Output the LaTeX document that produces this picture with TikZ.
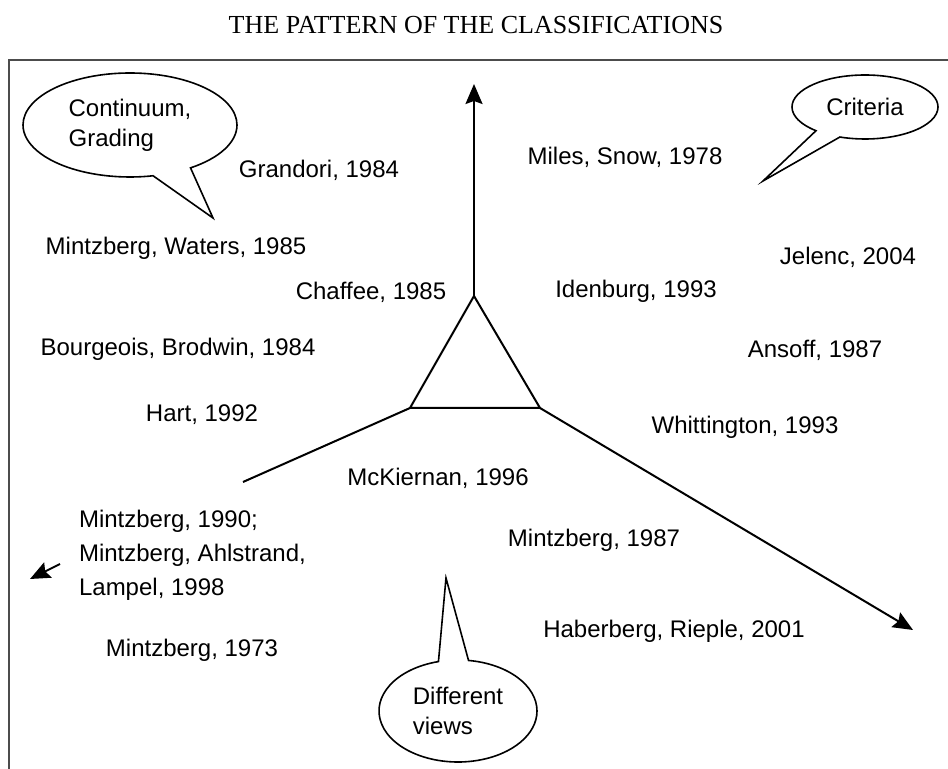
\documentclass[tikz,border=0pt]{standalone}
\usepackage{fontspec}
\setmainfont{Liberation Sans}
\newfontfamily\titlefont{Liberation Serif}
\usetikzlibrary{arrows.meta}
\usetikzlibrary{shapes.callouts}

\begin{document}
\begin{tikzpicture}[x=0.5pt,y=-0.5pt,
    lbl/.style={font=\fontsize{12}{17}\selectfont},
    bubble/.style={ellipse callout,draw,line width=0.8pt,fill=white,inner sep=0pt,
        callout pointer arc=22,font=\fontsize{12}{15}\selectfont,align=left},
    axis/.style={line width=1pt,-{Stealth[length=10pt,width=8.5pt,inset=1.5pt]}}]
    \useasboundingbox (0,0) rectangle (948,769);

    % frame and title
    \draw[black!70,line width=0.9pt] (9,769) -- (9,60) -- (948,60);
    \node[font=\titlefont\fontsize{13}{15}\selectfont] (title) at (476,25) {THE PATTERN OF THE CLASSIFICATIONS};

    % triangle and the three arms
    \coordinate (top) at (474,296);
    \coordinate (left) at (410,408);
    \coordinate (right) at (540,408);
    \coordinate (upEnd) at (474,84);
    \coordinate (rightEnd) at (913,630);
    \coordinate (leftEnd) at (243,482);
    \coordinate (tailStart) at (60,564);
    \coordinate (tailEnd) at (30,579);
    \draw[line width=1pt] (top) -- (left) -- (right) -- cycle;
    \draw[axis] (top) -- (upEnd);
    \draw[axis] (right) -- (rightEnd);
    \draw[line width=1pt] (left) -- (leftEnd);
    \draw[axis] (tailStart) -- (tailEnd);

    % callouts
    \coordinate (tipContin) at (213,218);
    \coordinate (tipCrit) at (763,181);
    \coordinate (tipViews) at (446,578);
    \node[bubble,minimum width=107pt,minimum height=52pt,callout absolute pointer={(tipContin)}] (contin) at (130,125) {Continuum,\\Grading};
    \node[bubble,minimum width=73pt,minimum height=32pt,callout absolute pointer={(tipCrit)}] (crit) at (865,107) {Criteria};
    \node[bubble,minimum width=79pt,minimum height=51pt,callout absolute pointer={(tipViews)}] (views) at (458,711) {Different\\views};

    % authors
    \node[lbl] (grandori) at (319,170) {Grandori, 1984};
    \node[lbl] (miles) at (625,157) {Miles, Snow, 1978};
    \node[lbl] (waters) at (176,248) {Mintzberg, Waters, 1985};
    \node[lbl] (jelenc) at (848,257) {Jelenc, 2004};
    \node[lbl] (chaffee) at (371,292) {Chaffee, 1985};
    \node[lbl] (idenburg) at (636,291) {Idenburg, 1993};
    \node[lbl] (bourgeois) at (178,349) {Bourgeois, Brodwin, 1984};
    \node[lbl] (ansoff) at (815,350) {Ansoff, 1987};
    \node[lbl] (hart) at (202,415) {Hart, 1992};
    \node[lbl] (whitt) at (745,427) {Whittington, 1993};
    \node[lbl] (mckiernan) at (438,478) {McKiernan, 1996};
    \node[lbl,anchor=west,align=left] (mintz90) at (72,555) {Mintzberg, 1990;\\Mintzberg, Ahlstrand,\\Lampel, 1998};
    \node[lbl] (mintz87) at (594,540) {Mintzberg, 1987};
    \node[lbl] (haberberg) at (674,631) {Haberberg, Rieple, 2001};
    \node[lbl] (mintz73) at (192,650) {Mintzberg, 1973};
\end{tikzpicture}
\end{document}
